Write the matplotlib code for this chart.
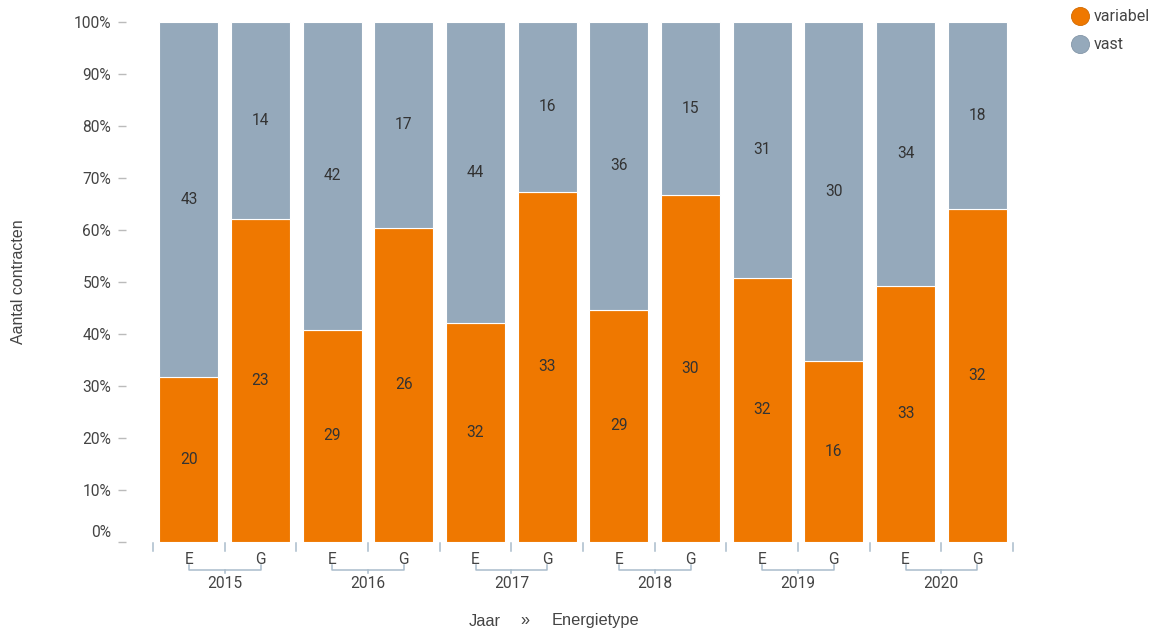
import matplotlib.pyplot as plt
from matplotlib.lines import Line2D
from matplotlib.transforms import ScaledTranslation
import numpy as np

plt.rcParams['font.family'] = ['Roboto', 'DejaVu Sans']

# aantal contracten per jaar en energietype
jaren = ['2015', '2016', '2017', '2018', '2019', '2020']
types = ['E', 'G']
variabel = [20, 23, 29, 26, 32, 33, 29, 30, 32, 16, 33, 32]
vast = [43, 14, 42, 17, 44, 16, 36, 15, 31, 30, 34, 18]
y_ticks = [0, 10, 20, 30, 40, 50, 60, 70, 80, 90, 100]

kleur_variabel = '#ef7800'
kleur_vast = '#95a9bb'
kleur_tekst = '#444444'
kleur_as = '#aabccb'
fs = 11.2
titel_font = ['Liberation Sans', 'DejaVu Sans']

W, H = 1157, 631
fig = plt.figure(figsize=(W / 100, H / 100), dpi=100)
# assen in pixels: links 118, rechts 1013, boven 22, onder 542
ax = fig.add_axes([118 / W, (H - 542) / H, (1013 - 118) / W, (542 - 22) / H])

var = np.array(variabel, dtype=float)
vst = np.array(vast, dtype=float)
totaal = var + vst
p_var = var / totaal * 100
p_vast = vst / totaal * 100

x = np.arange(len(variabel))
breedte = 0.82
ax.bar(x, p_var, width=breedte, color=kleur_variabel, edgecolor='white', linewidth=0.8)
ax.bar(x, p_vast, width=breedte, bottom=p_var, color=kleur_vast, edgecolor='white', linewidth=0.8)

for i in range(len(x)):
    ax.text(x[i], p_var[i] / 2, str(variabel[i]), ha='center', va='center',
            fontsize=fs, color='#333333')
    ax.text(x[i], p_var[i] + p_vast[i] / 2, str(vast[i]), ha='center', va='center',
            fontsize=fs, color='#333333')

slot = 860 / 12
ax.set_xlim(-0.5 - 35 / slot, len(x) - 0.5)
ax.set_ylim(0, 100)
for s in ax.spines.values():
    s.set_visible(False)

ax.set_xticks([])
ax.set_yticks(y_ticks)
ax.set_yticklabels([f'{v}%' for v in y_ticks])
ax.tick_params(axis='y', direction='in', length=6, width=1, color='#bbbbbb',
               labelsize=fs, labelcolor=kleur_tekst, pad=5)
# label 0% iets omhoog
lbl0 = ax.get_yticklabels()[0]
lbl0.set_transform(lbl0.get_transform() + ScaledTranslation(0, 11 / 100, fig.dpi_scale_trans))

ax.set_ylabel('Aantal contracten', fontsize=11.5, color=kleur_tekst, labelpad=34,
              family=titel_font)

# x-as: scheidingsstreepjes, E/G-labels en jaarhaken
trans = ax.get_xaxis_transform()


def py(p):
    return (542 - p) / 520


for b in np.arange(-0.5, len(x), 1.0):
    ax.plot([b, b], [py(543), py(551)], color=kleur_as, lw=1.1, transform=trans, clip_on=False)

for i in range(len(x)):
    ax.text(x[i], py(560), types[i % 2], ha='center', va='center', fontsize=fs,
            color=kleur_tekst, transform=trans)

for j, jaar in enumerate(jaren):
    a, b = 2 * j, 2 * j + 1
    ax.plot([a, a, b, b], [py(565), py(570), py(570), py(565)], color=kleur_as, lw=1.1,
            transform=trans, clip_on=False)
    m = (a + b) / 2
    ax.plot([m, m], [py(570), py(573)], color=kleur_as, lw=1.1, transform=trans, clip_on=False)
    ax.text(m, py(584), jaar, ha='center', va='center', fontsize=fs,
            color=kleur_tekst, transform=trans)

fig.text(485 / W, 1 - 621 / H, 'Jaar', ha='center', va='center', fontsize=11.8,
         color=kleur_tekst, family=titel_font)
fig.text(525 / W, 1 - 621 / H, '»', ha='center', va='center', fontsize=11.8,
         color=kleur_tekst, family=titel_font)
fig.text(595 / W, 1 - 621 / H, 'Energietype', ha='center', va='center', fontsize=11.8,
         color=kleur_tekst, family=titel_font)

handles = [
    Line2D([], [], marker='o', linestyle='none', markersize=13, markerfacecolor=kleur_variabel,
           markeredgecolor='#d06a00', markeredgewidth=0.6, label='variabel'),
    Line2D([], [], marker='o', linestyle='none', markersize=13, markerfacecolor=kleur_vast,
           markeredgecolor='#8396a8', markeredgewidth=0.6, label='vast'),
]
fig.legend(handles=handles, loc='upper left', bbox_to_anchor=(1064 / W, 1 - 3 / H),
           frameon=False, fontsize=11.5, labelcolor=kleur_tekst, handletextpad=0.25,
           labelspacing=0.8, handlelength=1.2, borderaxespad=0)

fig.savefig('out.png', dpi=100)
